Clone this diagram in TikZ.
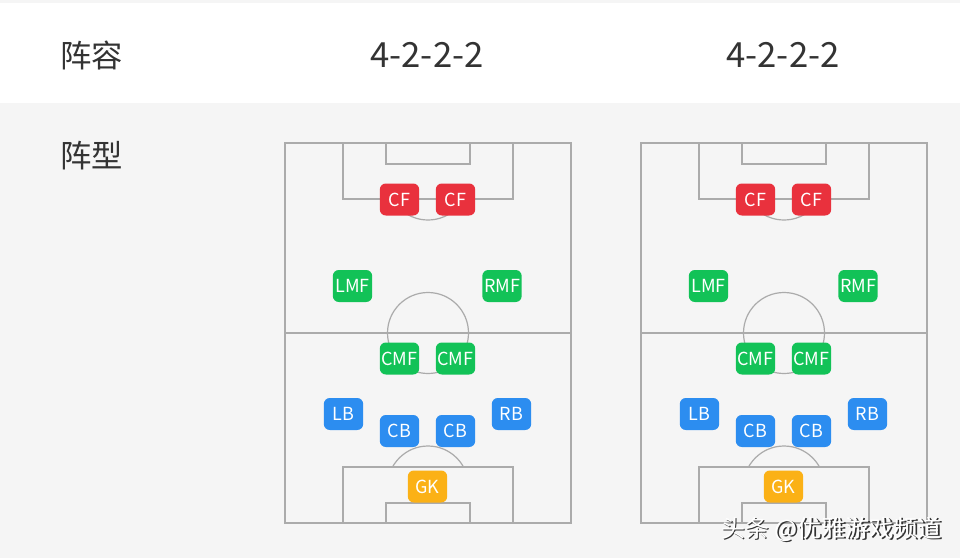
\documentclass[tikz,border=0pt]{standalone}
\usepackage{fontspec}
\setmainfont{Noto Sans CJK SC}
\usetikzlibrary{positioning}
\definecolor{pagegrey}{HTML}{F5F5F5}
\definecolor{linegrey}{HTML}{ABABAB}
\definecolor{textgrey}{HTML}{333333}
\definecolor{fwdred}{HTML}{E9313D}
\definecolor{midgreen}{HTML}{12C257}
\definecolor{defblue}{HTML}{2C8DF0}
\definecolor{gkorange}{HTML}{FBB116}
\tikzset{
    pitchline/.style = {draw=linegrey, line width=0.9pt},
    player/.style = {rectangle, rounded corners=4.5pt, minimum width=29.5pt, minimum height=24pt, inner sep=0pt, text=white, font=\fontsize{13.5}{13.5}\selectfont},
    fwdnode/.style = {player, fill=fwdred},
    midnode/.style = {player, fill=midgreen},
    defnode/.style = {player, fill=defblue},
    gknode/.style = {player, fill=gkorange},
    rowlabel/.style = {text=textgrey, inner sep=0pt, font=\fontsize{23.5}{23.5}\selectfont},
    formtext/.style = {text=textgrey, inner sep=0pt, font=\fontsize{26}{26}\selectfont},
    wmshadow/.style = {text=black!80, inner sep=0pt, font=\fontsize{18}{18}\selectfont},
    wmtext/.style = {text=white, inner sep=0pt, font=\fontsize{18}{18}\selectfont}
}

\begin{document}
\begin{tikzpicture}[x=0.75pt,y=-0.75pt]
\useasboundingbox (0,0) rectangle (960,558);
%
\fill[pagegrey] (0,0) rectangle (960,558);
\fill[white] (0,3) rectangle (960,103);
%
\node[rowlabel] at (91.5,55) (lineup) {阵容};
\node[rowlabel] at (91.5,156) (shape) {阵型};
\node[formtext] at (427,55) (forma) {4-2-2-2};
\node[formtext] at (783,55) (formb) {4-2-2-2};
%
% left pitch
\draw[pitchline] (285,143) rectangle (571,523);
\draw[pitchline] (285,333) -- (571,333);
\draw[pitchline] (428,333) circle[radius=40.5];
\draw[pitchline] (343,143) rectangle (513,199);
\draw[pitchline] (386,143) rectangle (470,164);
\draw[pitchline] (343,467) rectangle (513,523);
\draw[pitchline] (386,503) rectangle (470,523);
\begin{scope}
\clip (300,199) rectangle (560,240);
\draw[pitchline] (428,179.5) circle[radius=40.5];
\end{scope}
\begin{scope}
\clip (300,467) rectangle (560,420);
\draw[pitchline] (428,486.5) circle[radius=40.5];
\end{scope}
%
\node[fwdnode] at (399.5,199.5) (cfa1) {CF};
\node[fwdnode] at (455.5,199.5) (cfa2) {CF};
\node[midnode] at (352.5,286) (lmfa) {LMF};
\node[midnode] at (502,286) (rmfa) {RMF};
\node[midnode] at (399.5,358.5) (cmfa1) {CMF};
\node[midnode] at (455.5,358.5) (cmfa2) {CMF};
\node[defnode] at (343.5,414) (lba) {LB};
\node[defnode] at (511.5,414) (rba) {RB};
\node[defnode] at (399.5,431) (cba1) {CB};
\node[defnode] at (455.5,431) (cba2) {CB};
\node[gknode] at (427.5,486.5) (gka) {GK};
%
% right pitch
\draw[pitchline] (641,143) rectangle (927,523);
\draw[pitchline] (641,333) -- (927,333);
\draw[pitchline] (784,333) circle[radius=40.5];
\draw[pitchline] (699,143) rectangle (869,199);
\draw[pitchline] (742,143) rectangle (826,164);
\draw[pitchline] (699,467) rectangle (869,523);
\draw[pitchline] (742,503) rectangle (826,523);
\begin{scope}
\clip (656,199) rectangle (916,240);
\draw[pitchline] (784,179.5) circle[radius=40.5];
\end{scope}
\begin{scope}
\clip (656,467) rectangle (916,420);
\draw[pitchline] (784,486.5) circle[radius=40.5];
\end{scope}
%
\node[fwdnode] at (755.5,199.5) (cfb1) {CF};
\node[fwdnode] at (811.5,199.5) (cfb2) {CF};
\node[midnode] at (708.5,286) (lmfb) {LMF};
\node[midnode] at (858,286) (rmfb) {RMF};
\node[midnode] at (755.5,358.5) (cmfb1) {CMF};
\node[midnode] at (811.5,358.5) (cmfb2) {CMF};
\node[defnode] at (699.5,414) (lbb) {LB};
\node[defnode] at (867.5,414) (rbb) {RB};
\node[defnode] at (755.5,431) (cbb1) {CB};
\node[defnode] at (811.5,431) (cbb2) {CB};
\node[gknode] at (783.5,486.5) (gkb) {GK};
%
\node[wmshadow] at (833,530.5) (wmsh) {头条 @优雅游戏频道};
\node[wmtext] at (831.5,529) (wm) {头条 @优雅游戏频道};

\end{tikzpicture}
\end{document}
